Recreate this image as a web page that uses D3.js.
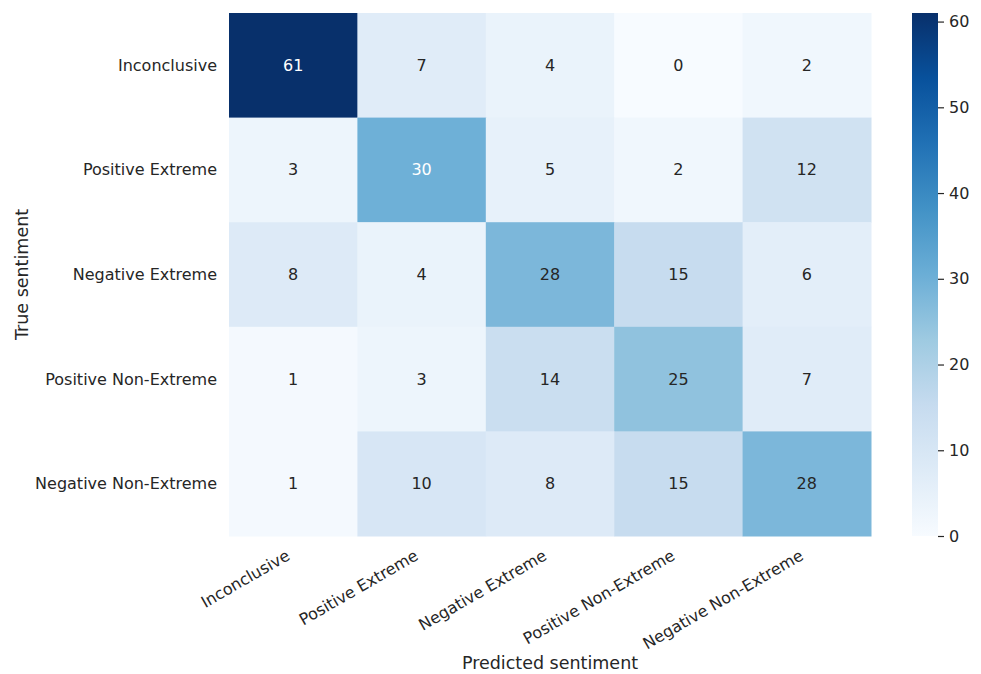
<!DOCTYPE html>
<html>
<head>
<meta charset="utf-8">
<script src="https://cdn.jsdelivr.net/npm/d3@7"></script>
<style>
  body { margin: 0; background: #fff; }
  text { font-family: "DejaVu Sans", sans-serif; fill: #262626; }
</style>
</head>
<body>
<svg id="chart" width="981" height="674"></svg>
<script>
// DATA
const predicted = ["Inconclusive", "Positive Extreme", "Negative Extreme", "Positive Non-Extreme", "Negative Non-Extreme"];
const actual = ["Inconclusive", "Positive Extreme", "Negative Extreme", "Positive Non-Extreme", "Negative Non-Extreme"];
const counts = [
  [61, 7, 4, 0, 2],
  [3, 30, 5, 2, 12],
  [8, 4, 28, 15, 6],
  [1, 3, 14, 25, 7],
  [1, 10, 8, 15, 28]
];
const colorTicks = [0, 10, 20, 30, 40, 50, 60];

// matplotlib "Blues"
const bluesStops = ["#f7fbff", "#deebf7", "#c6dbef", "#9ecae1", "#6baed6", "#4292c6", "#2171b5", "#08519c", "#08306b"];

const svg = d3.select("#chart");
const x0 = 229, x1 = 871, y0 = 13, y1 = 536;
const vmax = d3.max(counts.flat());

const xScale = d3.scaleBand().domain(predicted).range([x0, x1]);
const yScale = d3.scaleBand().domain(actual).range([y0, y1]);
const color = d3.scaleLinear()
  .domain(bluesStops.map((d, i) => (i / (bluesStops.length - 1)) * vmax))
  .range(bluesStops)
  .interpolate(d3.interpolateRgb);

const cells = [];
counts.forEach((row, i) => row.forEach((v, j) => cells.push({ r: actual[i], c: predicted[j], v })));

function textColor(v) {
  const c = d3.rgb(color(v));
  const lin = (u) => { u /= 255; return u <= 0.03928 ? u / 12.92 : Math.pow((u + 0.055) / 1.055, 2.4); };
  const lum = 0.2126 * lin(c.r) + 0.7152 * lin(c.g) + 0.0722 * lin(c.b);
  return lum > 0.408 ? "#262626" : "#ffffff";
}

const g = svg.append("g");
g.selectAll("rect").data(cells).join("rect")
  .attr("x", (d) => xScale(d.c))
  .attr("y", (d) => yScale(d.r))
  .attr("width", xScale.bandwidth() + 0.5)
  .attr("height", yScale.bandwidth() + 0.5)
  .attr("fill", (d) => color(d.v));

g.selectAll("text.annot").data(cells).join("text")
  .attr("class", "annot")
  .attr("x", (d) => xScale(d.c) + xScale.bandwidth() / 2)
  .attr("y", (d) => yScale(d.r) + yScale.bandwidth() / 2)
  .attr("text-anchor", "middle")
  .attr("dominant-baseline", "central")
  .style("font-size", "16px")
  .style("fill", (d) => textColor(d.v))
  .text((d) => d.v);

// x tick labels
svg.append("g").selectAll("text").data(predicted).join("text")
  .attr("transform", (d) => `translate(${xScale(d) + xScale.bandwidth() / 2 - 5},${y1 + 18}) rotate(-30)`)
  .attr("text-anchor", "end")
  .attr("dominant-baseline", "central")
  .style("font-size", "16px")
  .text((d) => d);

// y tick labels
svg.append("g").selectAll("text").data(actual).join("text")
  .attr("x", x0 - 12)
  .attr("y", (d) => yScale(d) + yScale.bandwidth() / 2)
  .attr("text-anchor", "end")
  .attr("dominant-baseline", "central")
  .style("font-size", "16px")
  .text((d) => d);

// axis titles
svg.append("text")
  .attr("x", (x0 + x1) / 2).attr("y", 669)
  .attr("text-anchor", "middle")
  .style("font-size", "17.5px")
  .text("Predicted sentiment");

svg.append("text")
  .attr("transform", `translate(28,${(y0 + y1) / 2}) rotate(-90)`)
  .attr("text-anchor", "middle")
  .style("font-size", "17.5px")
  .text("True sentiment");

// COLORBAR
const cbX = 912, cbW = 26;
const cbScale = d3.scaleLinear().domain([0, vmax]).range([y1, y0]);
const defs = svg.append("defs");
const grad = defs.append("linearGradient").attr("id", "cbgrad")
  .attr("x1", 0).attr("y1", 1).attr("x2", 0).attr("y2", 0);
grad.selectAll("stop").data(bluesStops).join("stop")
  .attr("offset", (d, i) => i / (bluesStops.length - 1))
  .attr("stop-color", (d) => d);
svg.append("rect")
  .attr("x", cbX).attr("y", y0)
  .attr("width", cbW).attr("height", y1 - y0)
  .attr("fill", "url(#cbgrad)");

const cbAxis = svg.append("g")
  .attr("transform", `translate(${cbX + cbW},0)`)
  .call(d3.axisRight(cbScale).tickValues(colorTicks).tickSize(6).tickPadding(5));
cbAxis.select(".domain").remove();
cbAxis.selectAll("line").attr("stroke", "#262626").attr("stroke-width", 1.2);
cbAxis.selectAll("text")
  .style("font-size", "16px")
  .style("font-family", "DejaVu Sans, sans-serif")
  .attr("fill", "#262626");
</script>
</body>
</html>
